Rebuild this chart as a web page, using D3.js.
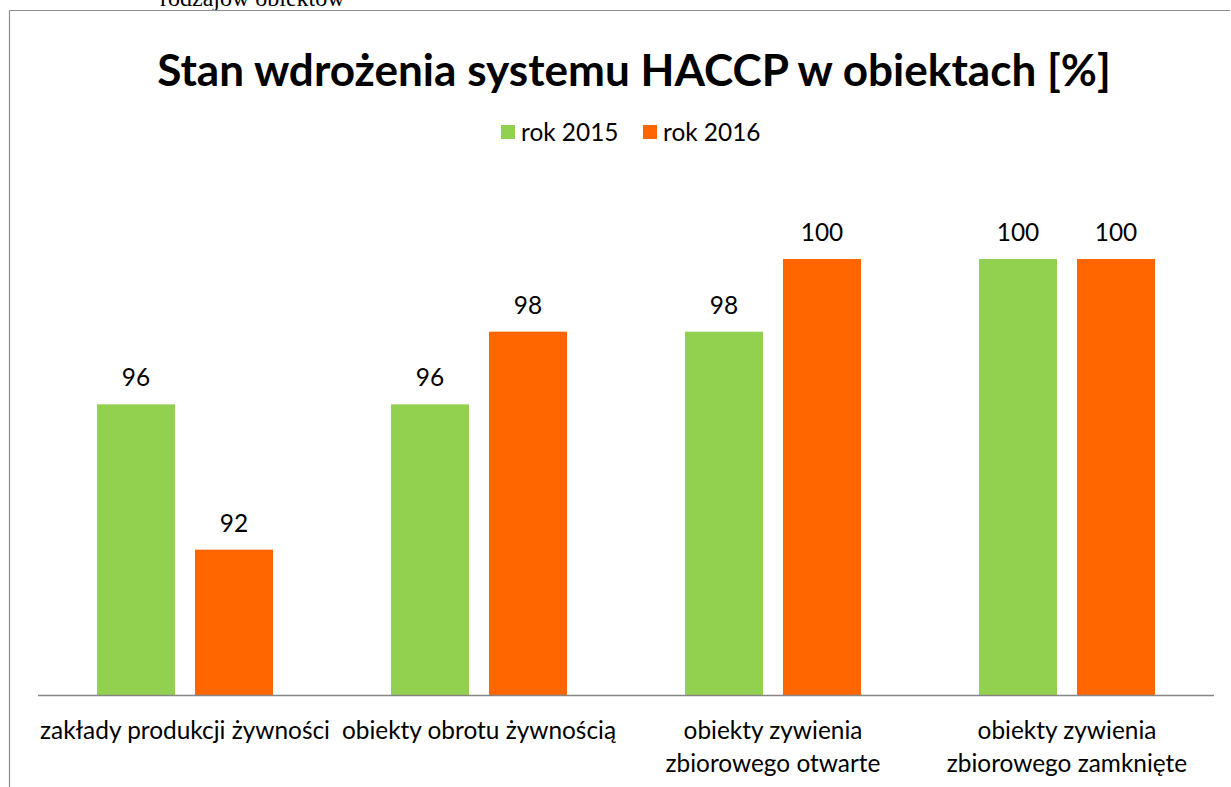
<!DOCTYPE html>
<html><head><meta charset="utf-8">
<script src="https://cdn.jsdelivr.net/npm/d3@7"></script>
<style>body{margin:0;background:#fff}svg{display:block}</style>
</head><body>
<script>
const categories = [["zakłady produkcji żywności"],["obiekty obrotu żywnością"],["obiekty zywienia","zbiorowego otwarte"],["obiekty zywienia","zbiorowego zamknięte"]];
const seriesNames = ["rok 2015","rok 2016"];
const values2015 = [96,96,98,100];
const values2016 = [92,98,100,100];
const colors = ["#92D050","#FF6600"];
const titleText = "Stan wdrożenia systemu HACCP w obiektach [%]";

const W=1231,H=787;
const svg=d3.select("body").append("svg").attr("width",W).attr("height",H);
const font="Lato, 'Open Sans', sans-serif";

// partial text above chart
svg.append("text").attr("x",160).attr("y",6).attr("font-family","'Liberation Serif', serif").attr("font-size",24).attr("fill","#000").text("rodzajów obiektów");
svg.append("rect").attr("x",0).attr("y",11).attr("width",W).attr("height",H).attr("fill","#fff");
// border
svg.append("line").attr("x1",9.5).attr("x2",1230).attr("y1",10.5).attr("y2",10.5).attr("stroke","#8c8c8c").attr("stroke-width",1.2);
svg.append("line").attr("x1",9.5).attr("x2",9.5).attr("y1",10.5).attr("y2",H).attr("stroke","#8c8c8c").attr("stroke-width",1.2);

function fit(sel,target){const w=sel.node().getComputedTextLength();const fs=+sel.attr("font-size");const n=fs*target/w;sel.attr("font-size",n);return n;}

const title=svg.append("text").attr("x",634).attr("y",86).attr("text-anchor","middle").attr("font-family",font).attr("font-weight","bold").attr("font-size",40).attr("fill","#000").text(titleText);
fit(title,954);

// measure label font size from first category label width in reference
const probe=svg.append("text").attr("font-family",font).attr("font-size",20).text(categories[0][0]);
const fs=fit(probe,290);
probe.remove();

const x0=d3.scaleBand().domain(d3.range(categories.length)).range([38,1214]).paddingInner(0).paddingOuter(0);
const x1=d3.scaleBand().domain(d3.range(2)).range([59,59+176]).paddingInner(20/98);
const y=d3.scaleLinear().domain([88,100]).range([695,259]);

const data=categories.map((c,i)=>[values2015[i],values2016[i]]);
const g=svg.append("g");
data.forEach((vals,i)=>{
  vals.forEach((v,j)=>{
    const bx=x0(i)+x1(j);
    g.append("rect").attr("x",bx).attr("y",y(v)).attr("width",x1.bandwidth()).attr("height",y(88)-y(v)).attr("fill",colors[j]);
    g.append("text").attr("x",bx+x1.bandwidth()/2).attr("y",y(v)-18).attr("text-anchor","middle").attr("font-family",font).attr("font-size",fs).attr("fill","#000").text(v);
  });
});
svg.append("line").attr("x1",38).attr("x2",1214).attr("y1",695.5).attr("y2",695.5).attr("stroke","#868686").attr("stroke-width",1.3);

categories.forEach((lines,i)=>{
  const cx=x0(i)+x0.bandwidth()/2;
  lines.forEach((t,k)=>{
    svg.append("text").attr("x",cx).attr("y",739+k*33).attr("text-anchor","middle").attr("font-family",font).attr("font-size",fs).attr("fill","#000").text(t);
  });
});

// legend
const leg=[{x:501,tx:521},{x:643,tx:663}];
seriesNames.forEach((n,j)=>{
  svg.append("rect").attr("x",leg[j].x).attr("y",125).attr("width",14).attr("height",14).attr("fill",colors[j]);
  svg.append("text").attr("x",leg[j].tx).attr("y",141).attr("font-family",font).attr("font-size",fs).attr("fill","#000").text(n);
});
</script>
</body></html>
